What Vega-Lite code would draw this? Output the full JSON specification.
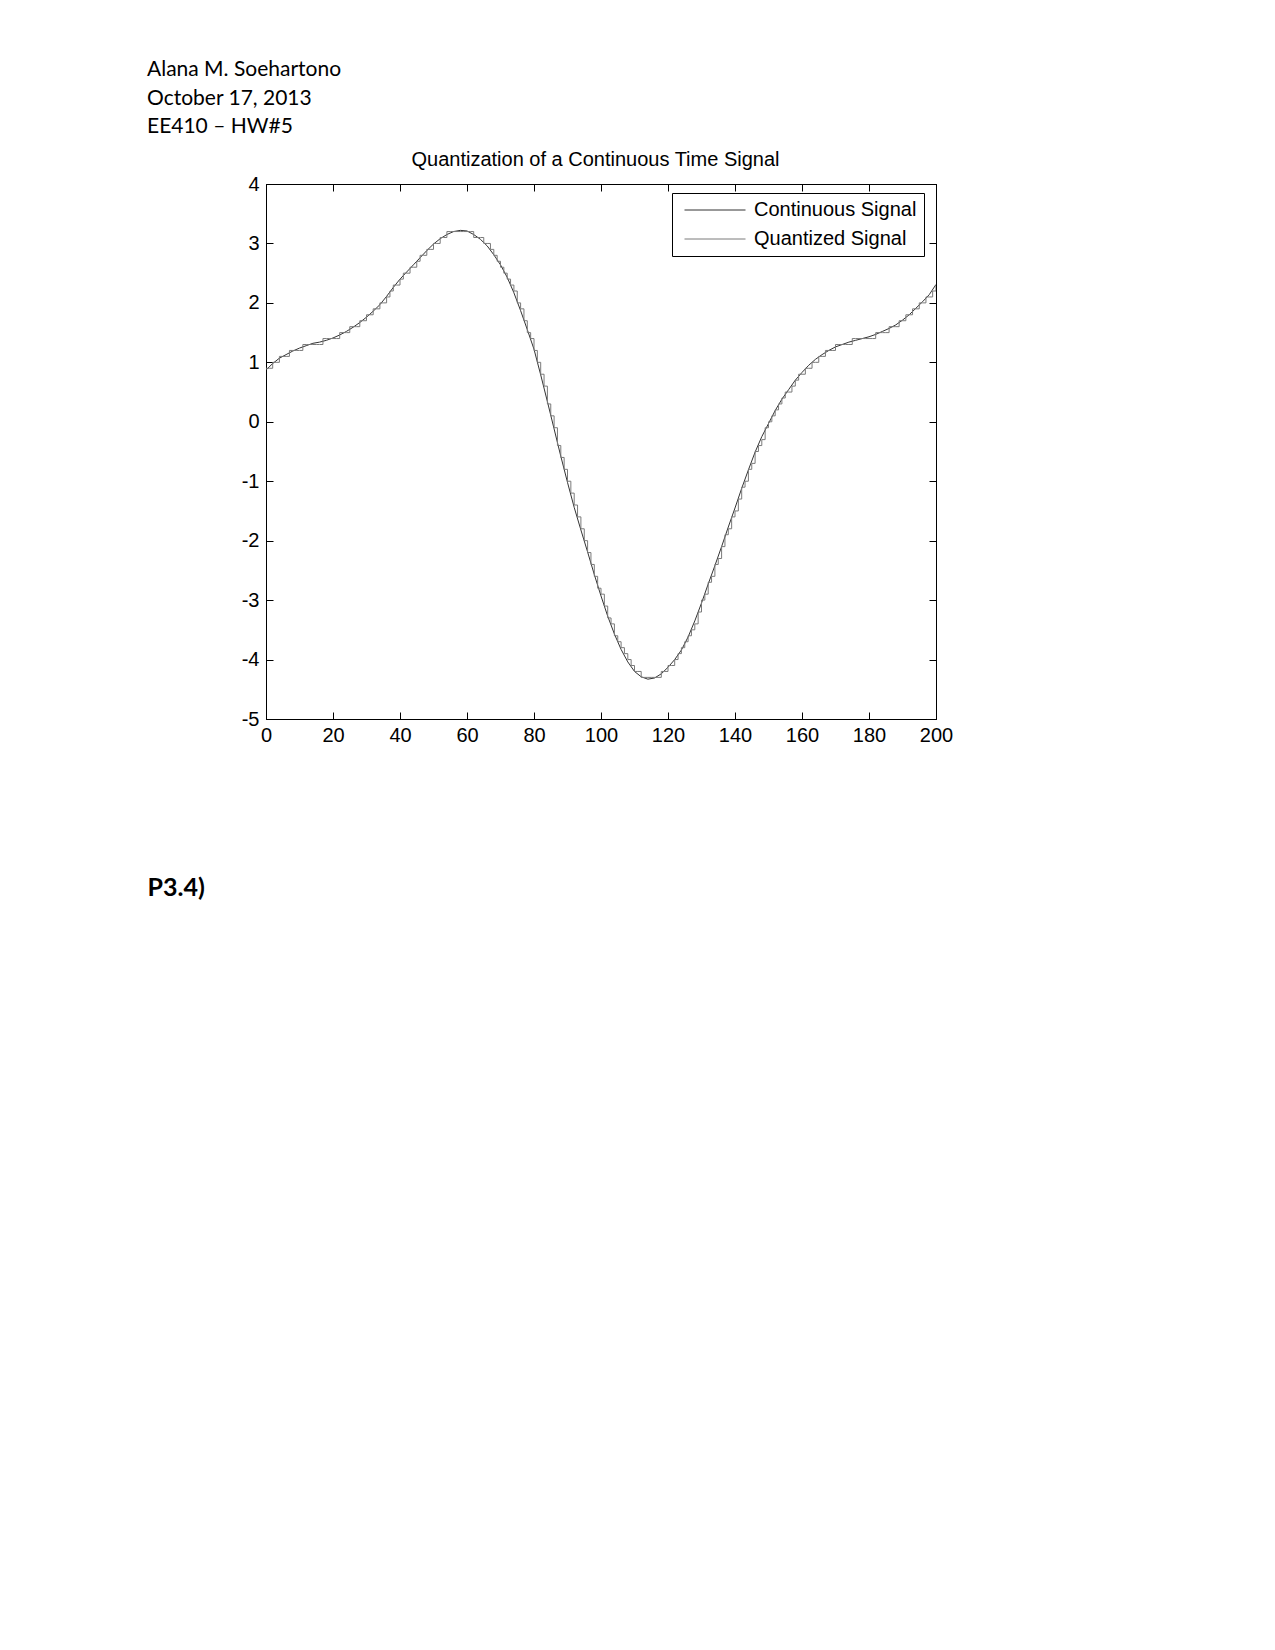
{
  "$schema": "https://vega.github.io/schema/vega-lite/v6.json",
  "padding": {"left": 147, "top": 59, "right": 0, "bottom": 0},
  "background": "#ffffff",
  "title": {
    "text": ["Alana M. Soehartono", "October 17, 2013", "EE410 – HW#5"],
    "anchor": "start",
    "frame": "group",
    "dx": -119,
    "offset": 12,
    "font": "Lato",
    "fontSize": 21,
    "fontWeight": "normal",
    "color": "#000000",
    "lineHeight": 28.5
  },
  "width": 670,
  "height": 535,
  "datasets": {
    "cont": [
      {"n":0,"v":0.87},{"n":2,"v":0.98},{"n":4,"v":1.07},{"n":6,"v":1.13},{"n":8,"v":1.19},{"n":10,"v":1.24},{"n":12,"v":1.28},{"n":14,"v":1.32},{"n":16,"v":1.34},{"n":18,"v":1.37},
      {"n":20,"v":1.41},{"n":22,"v":1.46},{"n":24,"v":1.52},{"n":26,"v":1.59},{"n":28,"v":1.67},{"n":30,"v":1.76},{"n":32,"v":1.86},{"n":34,"v":1.97},{"n":36,"v":2.11},{"n":38,"v":2.26},
      {"n":40,"v":2.40},{"n":42,"v":2.52},{"n":44,"v":2.64},{"n":46,"v":2.76},{"n":48,"v":2.88},{"n":50,"v":2.99},{"n":52,"v":3.08},{"n":54,"v":3.15},{"n":56,"v":3.20},{"n":58,"v":3.22},
      {"n":60,"v":3.21},{"n":62,"v":3.15},{"n":64,"v":3.07},{"n":66,"v":2.96},{"n":68,"v":2.81},{"n":70,"v":2.64},{"n":72,"v":2.43},{"n":74,"v":2.17},{"n":76,"v":1.87},{"n":78,"v":1.55},
      {"n":80,"v":1.22},{"n":82,"v":0.79},{"n":84,"v":0.34},{"n":86,"v":-0.12},{"n":88,"v":-0.58},{"n":90,"v":-1.02},{"n":92,"v":-1.44},{"n":94,"v":-1.82},{"n":96,"v":-2.19},{"n":98,"v":-2.57},
      {"n":100,"v":-2.93},{"n":102,"v":-3.27},{"n":104,"v":-3.57},{"n":106,"v":-3.83},{"n":108,"v":-4.04},{"n":110,"v":-4.20},{"n":112,"v":-4.29},{"n":114,"v":-4.33},{"n":116,"v":-4.31},{"n":118,"v":-4.24},
      {"n":120,"v":-4.13},{"n":122,"v":-4.00},{"n":124,"v":-3.84},{"n":126,"v":-3.62},{"n":128,"v":-3.35},{"n":130,"v":-3.05},{"n":132,"v":-2.73},{"n":134,"v":-2.42},{"n":136,"v":-2.10},{"n":138,"v":-1.77},
      {"n":140,"v":-1.45},{"n":142,"v":-1.12},{"n":144,"v":-0.81},{"n":146,"v":-0.51},{"n":148,"v":-0.25},{"n":150,"v":-0.03},{"n":152,"v":0.19},{"n":154,"v":0.38},{"n":156,"v":0.54},{"n":158,"v":0.70},
      {"n":160,"v":0.83},{"n":162,"v":0.95},{"n":164,"v":1.05},{"n":166,"v":1.13},{"n":168,"v":1.20},{"n":170,"v":1.26},{"n":172,"v":1.30},{"n":174,"v":1.34},{"n":176,"v":1.37},{"n":178,"v":1.40},
      {"n":180,"v":1.43},{"n":182,"v":1.47},{"n":184,"v":1.52},{"n":186,"v":1.57},{"n":188,"v":1.63},{"n":190,"v":1.71},{"n":192,"v":1.80},{"n":194,"v":1.91},{"n":196,"v":2.02},{"n":198,"v":2.14},
      {"n":200,"v":2.31}
    ],
    "quant": [
      {"n":0,"v":0.9},{"n":1,"v":0.9},{"n":2,"v":1.0},{"n":3,"v":1.0},{"n":4,"v":1.1},{"n":5,"v":1.1},{"n":6,"v":1.1},{"n":7,"v":1.2},{"n":8,"v":1.2},{"n":9,"v":1.2},
      {"n":10,"v":1.2},{"n":11,"v":1.3},{"n":12,"v":1.3},{"n":13,"v":1.3},{"n":14,"v":1.3},{"n":15,"v":1.3},{"n":16,"v":1.3},{"n":17,"v":1.4},{"n":18,"v":1.4},{"n":19,"v":1.4},
      {"n":20,"v":1.4},{"n":21,"v":1.4},{"n":22,"v":1.5},{"n":23,"v":1.5},{"n":24,"v":1.5},{"n":25,"v":1.6},{"n":26,"v":1.6},{"n":27,"v":1.6},{"n":28,"v":1.7},{"n":29,"v":1.7},
      {"n":30,"v":1.8},{"n":31,"v":1.8},{"n":32,"v":1.9},{"n":33,"v":1.9},{"n":34,"v":2.0},{"n":35,"v":2.0},{"n":36,"v":2.1},{"n":37,"v":2.2},{"n":38,"v":2.3},{"n":39,"v":2.3},
      {"n":40,"v":2.4},{"n":41,"v":2.5},{"n":42,"v":2.5},{"n":43,"v":2.6},{"n":44,"v":2.6},{"n":45,"v":2.7},{"n":46,"v":2.8},{"n":47,"v":2.8},{"n":48,"v":2.9},{"n":49,"v":2.9},
      {"n":50,"v":3.0},{"n":51,"v":3.0},{"n":52,"v":3.1},{"n":53,"v":3.1},{"n":54,"v":3.2},{"n":55,"v":3.2},{"n":56,"v":3.2},{"n":57,"v":3.2},{"n":58,"v":3.2},{"n":59,"v":3.2},
      {"n":60,"v":3.2},{"n":61,"v":3.2},{"n":62,"v":3.1},{"n":63,"v":3.1},{"n":64,"v":3.1},{"n":65,"v":3.0},{"n":66,"v":3.0},{"n":67,"v":2.9},{"n":68,"v":2.8},{"n":69,"v":2.7},
      {"n":70,"v":2.6},{"n":71,"v":2.5},{"n":72,"v":2.4},{"n":73,"v":2.3},{"n":74,"v":2.2},{"n":75,"v":2.0},{"n":76,"v":1.9},{"n":77,"v":1.7},{"n":78,"v":1.5},{"n":79,"v":1.4},
      {"n":80,"v":1.2},{"n":81,"v":1.0},{"n":82,"v":0.8},{"n":83,"v":0.6},{"n":84,"v":0.3},{"n":85,"v":0.1},{"n":86,"v":-0.1},{"n":87,"v":-0.4},{"n":88,"v":-0.6},{"n":89,"v":-0.8},
      {"n":90,"v":-1.0},{"n":91,"v":-1.2},{"n":92,"v":-1.4},{"n":93,"v":-1.6},{"n":94,"v":-1.8},{"n":95,"v":-2.0},{"n":96,"v":-2.2},{"n":97,"v":-2.4},{"n":98,"v":-2.6},{"n":99,"v":-2.8},
      {"n":100,"v":-2.9},{"n":101,"v":-3.1},{"n":102,"v":-3.3},{"n":103,"v":-3.4},{"n":104,"v":-3.6},{"n":105,"v":-3.7},{"n":106,"v":-3.8},{"n":107,"v":-3.9},{"n":108,"v":-4.0},{"n":109,"v":-4.1},
      {"n":110,"v":-4.2},{"n":111,"v":-4.2},{"n":112,"v":-4.3},{"n":113,"v":-4.3},{"n":114,"v":-4.3},{"n":115,"v":-4.3},{"n":116,"v":-4.3},{"n":117,"v":-4.3},{"n":118,"v":-4.2},{"n":119,"v":-4.2},
      {"n":120,"v":-4.1},{"n":121,"v":-4.1},{"n":122,"v":-4.0},{"n":123,"v":-3.9},{"n":124,"v":-3.8},{"n":125,"v":-3.7},{"n":126,"v":-3.6},{"n":127,"v":-3.5},{"n":128,"v":-3.4},{"n":129,"v":-3.2},
      {"n":130,"v":-3.0},{"n":131,"v":-2.9},{"n":132,"v":-2.7},{"n":133,"v":-2.6},{"n":134,"v":-2.4},{"n":135,"v":-2.3},{"n":136,"v":-2.1},{"n":137,"v":-1.9},{"n":138,"v":-1.8},{"n":139,"v":-1.6},
      {"n":140,"v":-1.5},{"n":141,"v":-1.3},{"n":142,"v":-1.1},{"n":143,"v":-1.0},{"n":144,"v":-0.8},{"n":145,"v":-0.7},{"n":146,"v":-0.5},{"n":147,"v":-0.4},{"n":148,"v":-0.3},{"n":149,"v":-0.1},
      {"n":150,"v":0.0},{"n":151,"v":0.1},{"n":152,"v":0.2},{"n":153,"v":0.3},{"n":154,"v":0.4},{"n":155,"v":0.5},{"n":156,"v":0.5},{"n":157,"v":0.6},{"n":158,"v":0.7},{"n":159,"v":0.8},
      {"n":160,"v":0.8},{"n":161,"v":0.9},{"n":162,"v":0.9},{"n":163,"v":1.0},{"n":164,"v":1.0},{"n":165,"v":1.1},{"n":166,"v":1.1},{"n":167,"v":1.2},{"n":168,"v":1.2},{"n":169,"v":1.2},
      {"n":170,"v":1.3},{"n":171,"v":1.3},{"n":172,"v":1.3},{"n":173,"v":1.3},{"n":174,"v":1.3},{"n":175,"v":1.4},{"n":176,"v":1.4},{"n":177,"v":1.4},{"n":178,"v":1.4},{"n":179,"v":1.4},
      {"n":180,"v":1.4},{"n":181,"v":1.4},{"n":182,"v":1.5},{"n":183,"v":1.5},{"n":184,"v":1.5},{"n":185,"v":1.5},{"n":186,"v":1.6},{"n":187,"v":1.6},{"n":188,"v":1.6},{"n":189,"v":1.7},
      {"n":190,"v":1.7},{"n":191,"v":1.8},{"n":192,"v":1.8},{"n":193,"v":1.9},{"n":194,"v":1.9},{"n":195,"v":2.0},{"n":196,"v":2.0},{"n":197,"v":2.1},{"n":198,"v":2.1},{"n":199,"v":2.2},
      {"n":200,"v":2.3}
    ]
  },
  "layer": [
    {
      "data": {"name": "cont"},
      "mark": {"type": "line", "strokeWidth": 1, "clip": true},
      "encoding": {
        "x": {
          "field": "n", "type": "quantitative",
          "scale": {"domain": [0, 200], "nice": false, "zero": false},
          "axis": {
            "orient": "bottom",
            "values": [0, 20, 40, 60, 80, 100, 120, 140, 160, 180, 200],
            "title": "P3.4)",
            "titleX": -119, "titleY": 176,
            "titleAlign": "left", "titleBaseline": "alphabetic", "titleAnchor": null,
            "titleFont": "Lato", "titleFontSize": 25, "titleFontWeight": "bold", "titleColor": "#000000",
            "labelPadding": 13
          }
        },
        "y": {
          "field": "v", "type": "quantitative",
          "scale": {"domain": [-5, 4], "nice": false, "zero": false},
          "axis": {
            "orient": "left",
            "values": [-5, -4, -3, -2, -1, 0, 1, 2, 3, 4],
            "labelExpr": "toString(datum.value)",
            "title": null,
            "labelPadding": 14
          }
        },
        "color": {
          "datum": "Continuous Signal",
          "scale": {"domain": ["Continuous Signal", "Quantized Signal"], "range": ["#333333", "#7a7a7a"]},
          "legend": {
            "title": null,
            "orient": "none",
            "legendX": 406,
            "legendY": 9,
            "symbolType": "stroke",
            "symbolSize": 3721,
            "symbolStrokeWidth": 1,
            "symbolOffset": 5,
            "clipHeight": 20,
            "rowPadding": 9,
            "padding": 7,
            "labelOffset": 8,
            "labelFont": "Liberation Sans",
            "labelFontSize": 20,
            "labelColor": "#000000",
            "labelLimit": 400,
            "strokeColor": "#000000",
            "fillColor": "#ffffff"
          }
        }
      }
    },
    {
      "data": {"name": "quant"},
      "mark": {"type": "line", "strokeWidth": 1, "interpolate": "step-after", "clip": true},
      "encoding": {
        "x": {
          "field": "n", "type": "quantitative",
          "axis": {
            "orient": "top",
            "values": [0, 20, 40, 60, 80, 100, 120, 140, 160, 180, 200],
            "labels": false,
            "title": "Quantization of a Continuous Time Signal",
            "titleX": 329, "titleY": -19,
            "titleAlign": "center", "titleBaseline": "alphabetic", "titleAnchor": null,
            "titleFont": "Liberation Sans", "titleFontSize": 20, "titleFontWeight": "normal", "titleColor": "#000000"
          }
        },
        "y": {
          "field": "v", "type": "quantitative",
          "axis": {
            "orient": "right",
            "values": [-5, -4, -3, -2, -1, 0, 1, 2, 3, 4],
            "labels": false,
            "title": null
          }
        },
        "color": {"datum": "Quantized Signal"}
      }
    }
  ],
  "resolve": {"axis": {"x": "independent", "y": "independent"}},
  "config": {
    "view": {"stroke": "#000000", "strokeWidth": 1},
    "axis": {
      "grid": false,
      "domainColor": "#000000",
      "domainWidth": 1,
      "tickColor": "#000000",
      "tickWidth": 1,
      "tickSize": -7,
      "labelFont": "Liberation Sans",
      "labelFontSize": 20,
      "labelColor": "#000000",
      "labelFlush": false,
      "labelOverlap": false
    }
  }
}
